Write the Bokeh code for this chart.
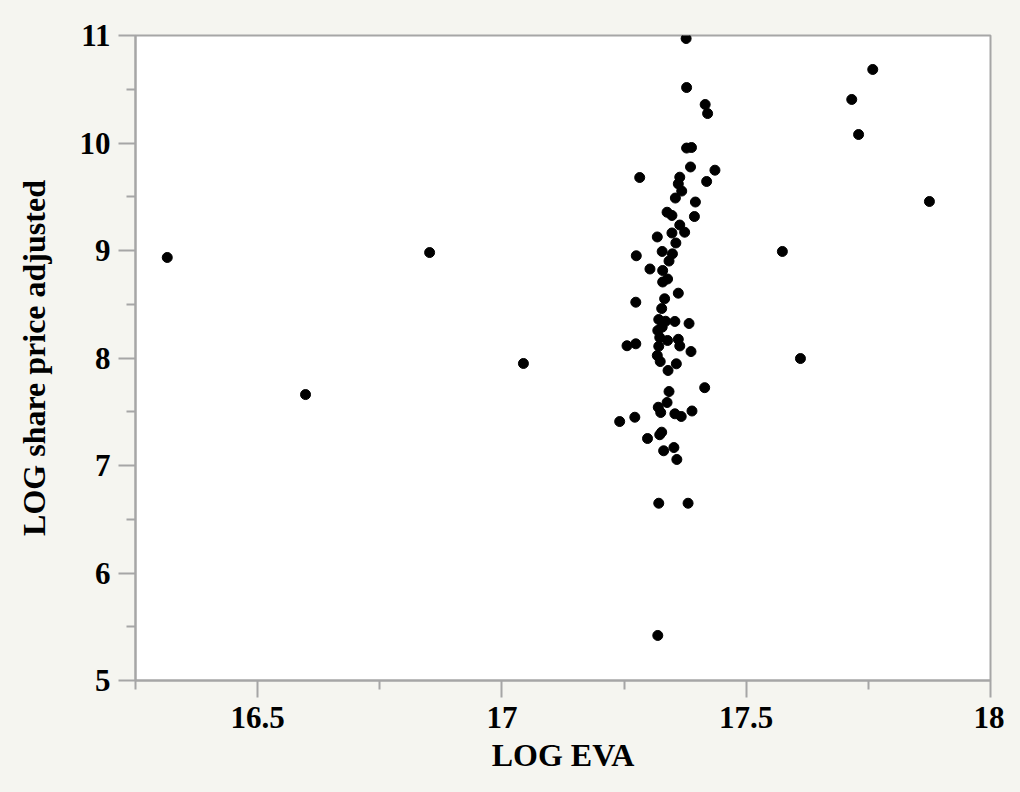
from bokeh.plotting import figure
from bokeh.models import Range1d, FixedTicker, ColumnDataSource
from bokeh.embed import file_html
from bokeh.resources import INLINE

# ---- data ----
log_eva = [
    16.315, 16.598, 16.852, 17.044, 17.574, 17.611, 17.716, 17.759, 17.730, 17.875,
    17.377, 17.378, 17.416, 17.421, 17.378, 17.388, 17.386, 17.436, 17.282, 17.419,
    17.364, 17.361, 17.368, 17.355, 17.396, 17.394, 17.338, 17.348, 17.364, 17.374,
    17.348, 17.318, 17.356, 17.328, 17.349, 17.342, 17.275, 17.303, 17.329, 17.339,
    17.329, 17.361, 17.274, 17.333, 17.327, 17.321, 17.335, 17.354, 17.383, 17.319,
    17.328, 17.323, 17.339, 17.361, 17.364, 17.256, 17.274, 17.321, 17.318, 17.324,
    17.387, 17.357, 17.340, 17.342, 17.415, 17.338, 17.320, 17.325, 17.354, 17.367,
    17.389, 17.272, 17.241, 17.327, 17.323, 17.298, 17.331, 17.352, 17.358, 17.321,
    17.381, 17.319,
]
log_price = [
    8.935, 7.660, 8.981, 7.949, 8.991, 7.995, 10.405, 10.684, 10.079, 9.456,
    10.972, 10.516, 10.358, 10.274, 9.953, 9.958, 9.777, 9.747, 9.679, 9.642,
    9.682, 9.620, 9.553, 9.488, 9.451, 9.316, 9.356, 9.326, 9.237, 9.170,
    9.163, 9.126, 9.070, 8.991, 8.969, 8.902, 8.951, 8.828, 8.814, 8.735,
    8.707, 8.603, 8.519, 8.551, 8.460, 8.358, 8.342, 8.340, 8.321, 8.256,
    8.287, 8.191, 8.163, 8.174, 8.112, 8.114, 8.132, 8.109, 8.023, 7.967,
    8.060, 7.946, 7.884, 7.688, 7.724, 7.586, 7.542, 7.493, 7.481, 7.456,
    7.507, 7.449, 7.409, 7.310, 7.286, 7.251, 7.137, 7.167, 7.056, 6.649,
    6.649, 5.419,
]
x_ticks = [16.5, 17, 17.5, 18]
x_tick_labels = ["16.5", "17", "17.5", "18"]
x_minor = [16.25, 16.75, 17.25, 17.75]
y_ticks = [5, 6, 7, 8, 9, 10, 11]
y_tick_labels = ["5", "6", "7", "8", "9", "10", "11"]
y_minor = [5.5, 6.5, 7.5, 8.5, 9.5, 10.5]

BG = "#f5f5f0"
GREY = "#a6a6a6"
FONT = "Liberation Serif"

p = figure(width=1004, height=776, output_backend="svg", toolbar_location=None,
           x_range=Range1d(16.25, 18), y_range=Range1d(5, 11),
           min_border_left=135, min_border_right=14, min_border_top=35,
           min_border_bottom=96)
p.background_fill_color = "white"
p.border_fill_color = BG
p.outline_line_color = GREY
p.outline_line_width = 2
p.grid.visible = False

src = ColumnDataSource(dict(x=log_eva, y=log_price))
p.scatter("x", "y", source=src, size=10, color="black")

p.xaxis.ticker = FixedTicker(ticks=x_ticks, minor_ticks=x_minor)
p.xaxis.major_label_overrides = {t: l for t, l in zip(x_ticks, x_tick_labels)}
p.yaxis.ticker = FixedTicker(ticks=y_ticks, minor_ticks=y_minor)
p.yaxis.major_label_overrides = {t: l for t, l in zip(y_ticks, y_tick_labels)}

p.xaxis.axis_label = "LOG EVA"
p.yaxis.axis_label = "LOG share price adjusted"

for ax in (p.xaxis, p.yaxis):
    ax.axis_line_color = GREY
    ax.axis_line_width = 2
    ax.major_tick_line_color = GREY
    ax.major_tick_line_width = 2
    ax.minor_tick_line_color = GREY
    ax.minor_tick_line_width = 2
    ax.major_tick_out = 17
    ax.major_tick_in = 0
    ax.minor_tick_out = 9
    ax.minor_tick_in = 0
    ax.major_label_text_font = FONT
    ax.major_label_text_font_style = "bold"
    ax.major_label_text_font_size = "31px"
    ax.major_label_text_color = "black"
    ax.axis_label_text_font = FONT
    ax.axis_label_text_font_style = "bold"
    ax.axis_label_text_font_size = "32px"
    ax.axis_label_text_color = "black"

p.xaxis.major_label_standoff = 9
p.yaxis.major_label_standoff = 8
p.xaxis.axis_label_standoff = 6
p.yaxis.axis_label_standoff = 25

html = file_html(p, INLINE)
html = html.replace("<head>", "<head><style>html,body{background:%s;}</style>" % BG, 1)
open("out.html", "w").write(html)
